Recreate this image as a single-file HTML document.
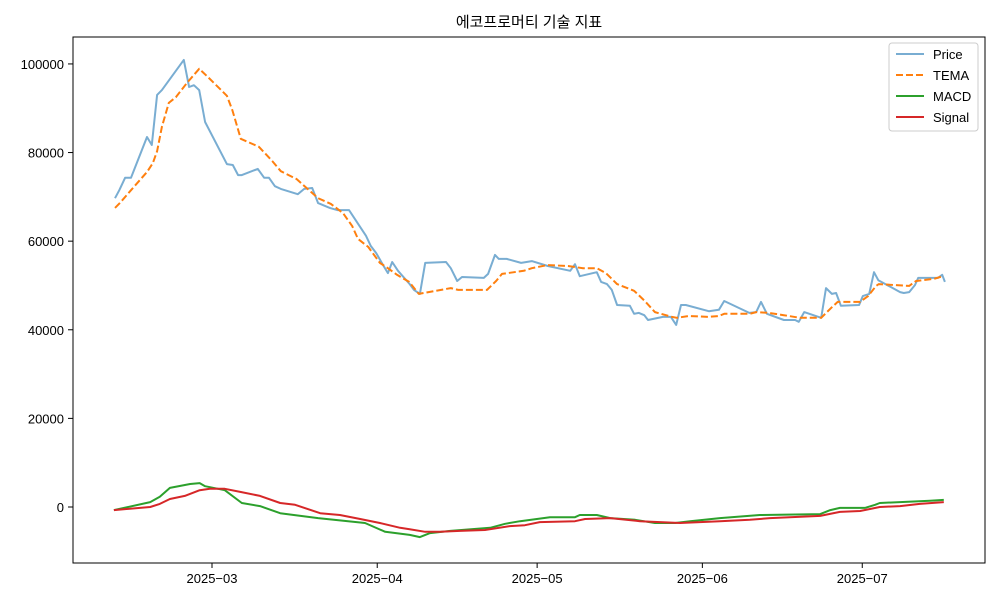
<!DOCTYPE html>
<html><head><meta charset="utf-8"><style>
body{margin:0;background:#fff;font-family:"Liberation Sans","Noto Sans CJK KR",sans-serif}
svg text{font-family:"Liberation Sans","Noto Sans CJK KR",sans-serif;font-size:13px;fill:#000}
</style></head><body>
<svg id="chart" width="1000" height="600" xmlns="http://www.w3.org/2000/svg">
<rect width="1000" height="600" fill="#fff"/>
<text x="529" y="27" text-anchor="middle" style="font-size:15px">에코프로머티 기술 지표</text>
<g id="axes"></g>
<g id="series"></g>
<rect x="73" y="37" width="912" height="526" fill="none" stroke="#000" stroke-width="1"/>
<g>
<rect x="889" y="43" width="89" height="88" fill="#fff" stroke="#ccc" rx="3"/>
<line x1="896" y1="54" x2="924" y2="54" stroke="#1f77b4" stroke-opacity="0.6" stroke-width="2"/>
<text x="933" y="59">Price</text>
<line x1="896" y1="75" x2="924" y2="75" stroke="#ff7f0e" stroke-width="2" stroke-dasharray="7,3"/>
<text x="933" y="80">TEMA</text>
<line x1="896" y1="96" x2="924" y2="96" stroke="#2ca02c" stroke-width="2"/>
<text x="933" y="101">MACD</text>
<line x1="896" y1="117" x2="924" y2="117" stroke="#d62728" stroke-width="2"/>
<text x="933" y="122">Signal</text>
</g>
</svg>
<script>
// days relative to 2025-03-01
const priceDays=[-18.2,-17.4,-16.3,-15.2,-12.2,-11.3,-10.3,-9.4,-5.3,-4.3,-3.4,-2.4,-1.3,2.8,3.9,4.9,5.6,8.6,9.8,10.7,11.8,12.9,16.1,17.3,18.8,19.9,22.1,23.5,25.7,28.9,29.8,30.8,32.1,33.0,33.8,34.9,37.1,37.9,39.0,40.0,43.9,44.8,46.0,46.9,51.0,51.8,53.1,53.8,55.3,58.0,60.0,63.0,67.2,68.1,69.0,72.2,73.0,74.1,75.0,76.0,78.4,79.2,80.1,81.1,81.8,84.6,86.1,87.1,88.0,88.9,93.2,95.1,96.1,100.8,102.1,103.0,104.1,107.3,109.4,110.1,111.1,114.3,115.2,116.3,117.1,118.0,121.4,122.1,123.3,124.2,125.0,129.1,129.8,130.8,131.9,132.5,136.2,137.0,137.5];
const priceVals=[69700,71500,74300,74300,83500,81700,93000,94100,100900,94800,95200,94100,86900,77400,77200,74900,74900,76300,74300,74300,72400,71800,70600,71800,72000,68600,67500,67000,67000,61200,58900,57300,54600,52800,55300,53300,50300,49000,48100,55100,55300,53900,51000,51900,51700,52600,56900,56000,56000,55100,55500,54400,53300,54800,52100,53000,50800,50300,49000,45600,45400,43600,43800,43300,42200,42900,42900,41100,45600,45600,44200,44500,46500,43800,44000,46300,43600,42200,42200,41800,44000,42700,49400,48100,48300,45400,45600,47600,48100,53000,51200,48500,48300,48500,50100,51700,51700,52400,50800];
const temaDays=[-18.2,-17.3,-15.2,-12.2,-11.1,-10.3,-9.4,-8.1,-6.8,-4.7,-2.4,-0.8,2.8,3.8,5.4,8.8,11.3,12.9,15.9,18.2,19.9,22.3,24.6,26.3,27.4,29.3,31.5,33.0,34.7,37.0,38.8,44.8,46.2,51.6,53.3,54.4,58.5,60.0,62.9,66.8,69.6,72.2,73.9,76.0,79.2,81.2,83.1,86.3,87.2,89.5,93.1,95.1,96.1,100.9,102.1,104.5,107.3,110.3,114.3,116.3,117.4,121.6,123.1,124.6,125.1,130.8,132.1,135.5,137.1];
const temaVals=[67500,68600,71500,75600,77600,80300,85800,91200,92500,95700,98900,97100,92800,89600,83100,81300,78100,75800,74000,71500,69700,68400,66300,63400,60500,58700,55100,53900,52400,50800,48100,49400,49000,49000,51000,52600,53300,53900,54600,54400,53900,53900,52800,50300,48800,46500,44000,42900,42700,43100,42900,43100,43600,43600,44000,43800,43300,42700,42700,45100,46300,46300,47600,49900,50300,49900,51000,51500,52100];
const macdDays=[-18.4,-11.6,-9.8,-7.9,-4.1,-2.3,-1.3,2.4,5.6,9.0,12.8,19.9,28.7,32.5,37.1,39.0,40.9,44.7,52.2,55.0,57.8,63.4,68.1,69.0,72.2,74.7,79.4,83.1,86.9,89.7,95.3,102.8,114.1,116.0,117.8,122.5,124.4,125.3,129.1,134.7,137.3];
const macdVals=[-700,1100,2300,4300,5200,5400,4700,3800,900,200,-1400,-2500,-3600,-5600,-6300,-6800,-5900,-5400,-4700,-3800,-3200,-2300,-2300,-1800,-1800,-2500,-2900,-3600,-3600,-3200,-2500,-1800,-1600,-700,-200,-200,500,900,1100,1400,1600];
const signalDays=[-18.4,-11.6,-9.8,-7.9,-5.1,-2.3,-0.4,2.4,5.3,9.0,12.8,15.6,20.3,24.0,27.8,31.5,35.3,37.1,40.0,42.8,46.5,51.2,55.9,58.7,61.5,68.1,70.0,74.7,80.3,87.8,95.3,100.9,104.7,114.1,117.8,121.6,125.3,129.1,132.8,137.3];
const signalVals=[-700,0,700,1800,2500,3800,4100,4100,3400,2500,900,500,-1400,-1800,-2700,-3600,-4700,-5000,-5600,-5600,-5400,-5200,-4300,-4100,-3400,-3200,-2700,-2500,-3200,-3600,-3200,-2900,-2500,-2000,-1100,-900,0,200,700,1100];
const yTicks=[0,20000,40000,60000,80000,100000];
const xTickDays=[0,31,61,92,122];
const xTickLabels=["2025−03","2025−04","2025−05","2025−06","2025−07"];

const NS="http://www.w3.org/2000/svg";
const xs=d=>212+d*5.33;
const ys=v=>507-v/225.7;
const axes=document.getElementById('axes');
const ser=document.getElementById('series');
function mk(tag,attrs,parent){const e=document.createElementNS(NS,tag);for(const k in attrs)e.setAttribute(k,attrs[k]);parent.appendChild(e);return e;}
yTicks.forEach(v=>{
  const y=ys(v);
  const t=mk('line',{x1:68,x2:73,y1:y,y2:y,stroke:'#000'},axes);
  
  
  const l=mk('text',{x:64,y:y+5,'text-anchor':'end'},axes);
  
  
  l.textContent=String(v);
});
xTickDays.forEach((d,i)=>{
  const x=xs(d);
  const t=mk('line',{x1:x,x2:x,y1:563,y2:568,stroke:'#000'},axes);
  
  
  const l=mk('text',{x:x,y:583,'text-anchor':'middle'},axes);
  
  
  l.textContent=xTickLabels[i];
});
function line(days,vals,style,name){
  const pts=days.map((d,i)=>xs(d).toFixed(1)+','+ys(vals[i]).toFixed(1)).join(' ');
  const p=mk('polyline',Object.assign({points:pts,fill:'none','stroke-linejoin':'round'},style),ser);
  
  
}
line(macdDays,macdVals,{stroke:'#2ca02c','stroke-width':2},'macd-line');
line(signalDays,signalVals,{stroke:'#d62728','stroke-width':2},'signal-line');
line(priceDays,priceVals,{stroke:'#1f77b4','stroke-opacity':0.6,'stroke-width':2},'price-line');
line(temaDays,temaVals,{stroke:'#ff7f0e','stroke-width':2,'stroke-dasharray':'7,3'},'tema-line');
</script>
</body></html>
